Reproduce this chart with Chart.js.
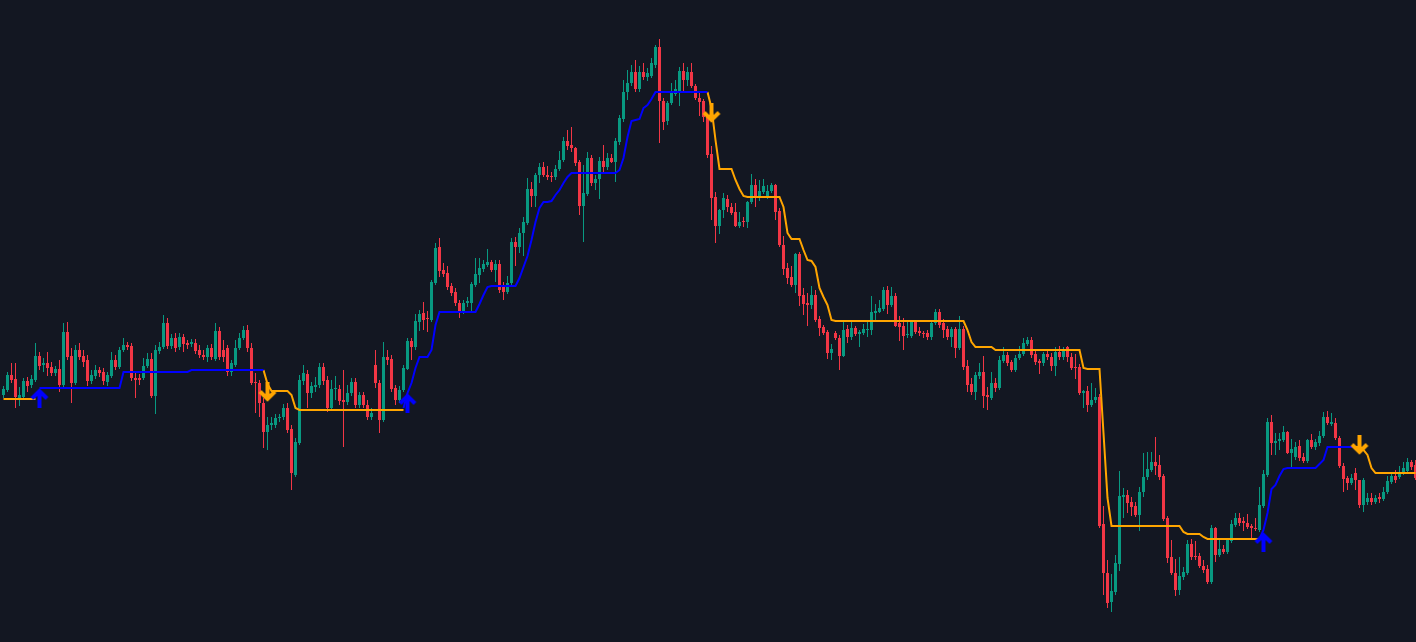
<!DOCTYPE html>
<html>
<head>
<meta charset="utf-8">
<title>Trailing stop</title>
<script src="https://cdn.jsdelivr.net/npm/chart.js@4.4.1/dist/chart.umd.min.js"></script>
<style>
  html, body { margin: 0; padding: 0; background: #131722; overflow: hidden; }
  #wrap { position: relative; width: 1416px; height: 642px; }
</style>
</head>
<body>
<div id="wrap"><canvas id="chart"></canvas></div>
<script>
const n = null;

// candles (price units), one per bar
const opens = [
  605,610,625,621,602,603,619,615,620,644, 635,637,633,627,631,615,668,644,617,650,
  644,640,619,624,630,628,618,624,640,633, 650,655,654,622,622,622,634,641,604,649,
  653,677,654,662,653,663,657,656,657,650, 645,643,652,641,669,650,652,628,635,652,
  662,670,652,618,617,597,568,575,575,582, 583,592,571,525,557,619,626,607,613,615,
  633,620,592,611,611,600,598,607,618,595, 605,595,583,635,617,580,643,641,612,600,
  610,631,659,653,678,687,682,680,717,753, 730,727,714,708,697,689,697,697,715,725,
  731,735,738,730,736,713,708,717,758,753, 767,777,811,804,825,833,825,824,823,831,
  840,859,855,852,838,794,806,842,817,821, 839,833,842,838,858,881,908,917,928,911,
  928,923,924,935,953,899,879,897,906,908, 929,920,928,914,902,899,883,846,803,774,
  790,801,793,788,774,779,778,798,815,802, 808,803,809,815,789,755,732,723,715,746,
  705,697,695,705,681,673,668,647,667,662, 644,671,663,672,666,667,670,670,687,688,
  691,710,695,704,677,674,665,664,678,669, 667,667,663,677,688,677,671,663,671,652,
  671,634,616,608,624,628,605,602,617,612, 639,645,638,630,642,646,656,660,646,639,
  637,646,643,634,648,643,653,643,633,633, 607,609,595,600,603,476,427,398,408,436,
  503,505,498,494,485,508,523,530,538,535, 524,482,443,427,410,423,427,456,444,444,
  434,431,418,472,445,451,448,459,475,482, 479,477,474,472,470,494,525,578,557,559,
  560,568,547,543,554,543,539,560,553,557, 564,583,576,577,562,534,522,517,527,520,
  495,498,502,498,503,501,508,518,524,523, 527,529,538,535
];
const closes = [
  611,625,620,603,605,619,614,621,644,634, 637,632,627,631,615,668,643,617,650,643,
  638,619,625,630,627,619,625,640,633,650, 655,653,622,620,620,634,641,604,650,653,
  677,654,662,652,663,656,655,658,649,645, 643,652,643,669,643,643,628,637,652,662,
  670,652,617,617,597,568,575,577,582,583, 592,570,527,558,620,627,607,614,615,633,
  619,592,611,611,599,598,607,618,595,605, 595,583,587,617,580,643,640,611,600,610,
  632,659,653,679,686,680,681,718,752,729, 726,713,707,697,689,697,699,716,726,732,
  736,738,730,736,710,708,717,758,753,767, 778,811,804,825,833,825,823,823,831,840,
  859,854,852,837,794,807,842,817,821,839, 833,842,838,859,882,908,917,928,911,928,
  923,927,937,953,899,878,897,907,911,929, 920,928,914,902,898,883,845,802,774,790,
  802,793,787,774,778,778,798,815,802,809, 814,809,815,788,755,731,722,715,746,704,
  696,695,705,680,672,667,647,651,662,644, 670,663,672,666,668,671,671,688,689,692,
  710,695,704,674,673,664,665,678,668,667, 666,663,677,688,675,670,663,671,652,671,
  633,615,608,625,628,604,603,617,612,640, 645,637,630,642,646,657,660,645,638,637,
  646,643,634,648,643,649,643,632,632,607, 609,595,600,603,474,427,397,409,437,504,
  505,497,493,485,508,523,531,538,534,523, 481,442,427,410,424,428,456,443,443,434,
  430,418,472,445,451,448,460,476,482,477, 477,473,472,471,495,526,578,557,559,561,
  568,547,551,553,542,539,560,553,558,564, 583,577,578,562,534,521,517,522,520,495,
  520,502,498,502,501,508,519,524,520,528, 532,538,533,522
];
const highs = [
  614,628,637,637,613,622,623,625,657,648, 642,648,638,634,640,677,678,652,655,657,
  650,645,630,635,633,632,628,648,645,653, 662,658,657,628,626,642,647,647,655,658,
  685,682,666,667,667,666,660,661,661,655, 650,655,656,677,673,660,655,640,660,667,
  674,675,657,627,620,602,583,583,586,586, 596,597,575,562,625,635,630,618,623,637,
  637,624,620,624,615,630,615,622,622,608, 608,600,592,650,620,658,650,645,615,614,
  635,662,662,686,690,698,689,720,757,762, 737,734,717,712,700,700,703,718,742,742,
  740,751,740,740,740,718,724,762,763,772, 783,822,818,827,837,838,834,828,835,849,
  863,870,873,853,840,835,848,845,825,843, 855,847,846,862,885,920,930,935,940,934,
  937,932,942,955,961,902,899,917,920,933, 937,933,937,916,908,901,886,854,808,791,
  807,805,797,797,788,783,799,826,821,820, 821,815,817,816,792,764,737,734,747,748,
  712,707,714,710,684,675,670,656,669,665, 678,675,678,674,670,676,678,704,696,700,
  713,714,713,707,684,682,680,680,680,673, 669,670,678,691,691,681,674,673,673,684,
  674,640,622,628,637,644,613,628,622,644, 653,648,640,645,654,662,663,663,650,641,
  648,650,647,653,654,653,654,647,646,636, 610,614,617,612,606,494,440,426,445,529,
  512,510,503,498,513,547,548,548,563,545, 526,484,460,441,443,433,460,461,459,447,
  440,435,475,473,462,455,462,480,487,487, 483,486,476,482,513,530,582,585,567,567,
  574,569,561,558,560,547,561,566,561,569, 588,589,587,582,564,537,524,526,532,520,
  522,507,507,505,507,513,524,528,530,534, 538,542,540,540
];
const lows = [
  602,608,617,592,594,601,608,612,618,630, 628,624,624,624,608,612,640,597,615,640,
  633,614,616,621,623,615,614,622,630,631, 648,650,619,602,615,620,632,602,586,646,
  651,651,651,648,650,648,651,653,646,642, 640,638,640,639,640,638,624,624,633,650,
  660,648,615,587,583,552,550,570,572,578, 580,567,510,523,555,615,592,602,608,612,
  615,588,589,600,595,553,595,604,592,592, 592,580,580,612,567,578,635,608,595,597,
  608,630,640,650,669,670,668,678,715,723, 723,710,704,694,682,686,693,689,713,717,
  728,733,728,718,707,700,706,715,734,747, 744,775,793,793,817,823,820,818,820,829,
  838,850,848,834,785,758,804,814,810,801, 827,830,837,818,855,878,900,914,908,908,
  920,919,922,932,857,870,875,895,904,894, 908,914,912,900,884,878,842,780,757,766,
  782,788,785,773,772,773,772,796,793,799, 806,801,807,780,753,725,716,713,707,694,
  685,674,691,678,664,665,641,640,660,630, 643,657,660,664,653,665,663,665,679,687,
  689,686,693,673,659,650,662,662,666,664, 662,660,660,675,672,662,660,653,642,650,
  630,608,605,600,621,592,590,600,608,610, 637,634,628,628,640,644,654,642,635,626,
  634,640,629,624,640,640,638,630,621,605, 592,588,593,597,472,405,392,388,405,429,
  482,487,484,483,469,503,520,528,525,520, 479,437,425,404,405,420,425,440,440,432,
  427,416,416,438,443,446,446,457,473,474, 469,471,462,469,468,492,523,545,545,550,
  558,546,533,540,539,537,537,551,550,554, 562,575,574,560,532,508,510,515,510,492,
  488,495,495,496,497,499,506,516,517,521, 525,527,530,520
];

// trailing stop, long side (blue) and short side (orange)
const longStop = [
  n,n,n,n,n,n,n,n,n,612, 612,612,612,612,612,612,612,612,612,612,
  612,612,612,612,612,612,612,612,612,612, 628,628,628,628,628,628,628,628,628,628,
  628,628,628,628,628,628,628,630,630,630, 630,630,630,630,630,630,630,630,630,630,
  630,630,630,630,630,630,n,n,n,n, n,n,n,n,n,n,n,n,n,n,
  n,n,n,n,n,n,n,n,n,n, n,n,n,n,n,n,n,n,n,n,
  592,607,617,632,643,643,643,650,675,688, 688,688,688,688,688,688,688,688,688,696,
  705,713,714,714,714,714,714,714,714,722, 733,744,760,778,792,798,798,799,805,810,
  817,823,827,827,827,827,827,827,827,827, 827,827,827,827,830,842,863,879,880,881,
  892,895,901,908,908,908,908,908,908,908, 908,908,908,908,908,908,908,n,n,n,
  n,n,n,n,n,n,n,n,n,n, n,n,n,n,n,n,n,n,n,n,
  n,n,n,n,n,n,n,n,n,n, n,n,n,n,n,n,n,n,n,n,
  n,n,n,n,n,n,n,n,n,n, n,n,n,n,n,n,n,n,n,n,
  n,n,n,n,n,n,n,n,n,n, n,n,n,n,n,n,n,n,n,n,
  n,n,n,n,n,n,n,n,n,n, n,n,n,n,n,n,n,n,n,n,
  n,n,n,n,n,n,n,n,n,n, n,n,n,n,n,n,n,n,n,n,
  n,n,n,n,n,n,n,n,n,n, n,n,n,n,461,470,487,511,515,524,
  531,532,532,532,532,532,532,532,532,536, 540,553,553,553,553,553,553,553,553,n,
  n,n,n,n,n,n,n,n,n,n, n,n,n,n
];
const shortStop = [
  601,601,601,601,601,601,601,601,601,n, n,n,n,n,n,n,n,n,n,n,
  n,n,n,n,n,n,n,n,n,n, n,n,n,n,n,n,n,n,n,n,
  n,n,n,n,n,n,n,n,n,n, n,n,n,n,n,n,n,n,n,n,
  n,n,n,n,n,630,616,609,609,609, 609,609,605,592,590,590,590,590,590,590,
  590,590,590,590,590,590,590,590,590,590, 590,590,590,590,590,590,590,590,590,590,
  590,n,n,n,n,n,n,n,n,n, n,n,n,n,n,n,n,n,n,n,
  n,n,n,n,n,n,n,n,n,n, n,n,n,n,n,n,n,n,n,n,
  n,n,n,n,n,n,n,n,n,n, n,n,n,n,n,n,n,n,n,n,
  n,n,n,n,n,n,n,n,n,n, n,n,n,n,n,n,908,892,860,831,
  831,831,831,820,811,804,803,803,803,803, 803,803,803,803,803,793,767,761,761,761,
  750,740,739,733,712,703,695,680,679,679, 679,679,679,679,679,679,679,679,679,679,
  679,679,679,679,679,679,679,679,679,679, 679,679,679,679,679,679,679,679,679,679,
  679,670,658,653,653,653,653,653,650,650, 650,650,650,650,650,650,650,650,650,650,
  650,650,650,650,650,650,650,650,650,650, 632,631,631,631,631,567,502,474,474,474,
  474,474,474,474,474,474,474,474,474,474, 474,474,474,474,474,468,466,466,466,466,
  463,461,461,461,461,461,461,461,461,461, 461,461,461,461,461,n,n,n,n,n,
  n,n,n,n,n,n,n,n,n,n, n,n,n,n,n,n,n,n,553,553,
  550,545,532,527,527,527,527,527,527,527, 527,527,527,527
];

// signal arrows: bar index and price of the arrow tip
const buyBars = [9, 101, 315];
const buyPrices = [612, 607, 468];
const sellBars = [66, 177, 339];
const sellPrices = [598, 877, 545];

const GREEN = '#089981';
const RED = '#f23645';
const BLUE = '#0000ff';
const ORANGE = '#ffa500';

const labels = closes.map((_, i) => String(i));
const candleColors = closes.map((c, i) => (c >= opens[i] ? GREEN : RED));

function makeArrow(color, up) {
  const c = document.createElement('canvas');
  c.width = 20;
  c.height = 44;
  const g = c.getContext('2d');
  const tip = 22, cx = 10, d = up ? 1 : -1;
  g.strokeStyle = color;
  g.fillStyle = color;
  g.lineWidth = 4;
  g.lineJoin = 'miter';
  g.beginPath();
  g.moveTo(cx - 7.5, tip + d * 10.5);
  g.lineTo(cx, tip + d * 3);
  g.lineTo(cx + 7.5, tip + d * 10.5);
  g.stroke();
  g.fillRect(cx - 2, up ? tip + 2 : tip - 20, 4, 18);
  return c;
}

// nudge marks so 1px wicks and 3px bodies land on whole pixels
const pixelAlign = {
  id: 'pixelAlign',
  beforeDatasetsDraw(chart) { chart.ctx.save(); chart.ctx.translate(1.5, 0); },
  afterDatasetsDraw(chart) { chart.ctx.restore(); }
};

new Chart(document.getElementById('chart'), {
  type: 'bar',
  data: {
    labels: labels,
    datasets: [
      {
        type: 'line',
        data: buyBars.map((b, i) => ({ x: labels[b], y: buyPrices[i] })),
        showLine: false,
        pointStyle: makeArrow(BLUE, true),
        order: 0
      },
      {
        type: 'line',
        data: sellBars.map((b, i) => ({ x: labels[b], y: sellPrices[i] })),
        showLine: false,
        pointStyle: makeArrow(ORANGE, false),
        order: 0
      },
      {
        type: 'line',
        data: longStop,
        borderColor: BLUE,
        borderWidth: 2,
        pointRadius: 0,
        spanGaps: false,
        order: 1
      },
      {
        type: 'line',
        data: shortStop,
        borderColor: ORANGE,
        borderWidth: 2,
        pointRadius: 0,
        spanGaps: false,
        order: 1
      },
      {
        data: opens.map((o, i) => [o, closes[i]]),
        backgroundColor: candleColors,
        barThickness: 3,
        minBarLength: 1,
        grouped: false,
        inflateAmount: 0,
        order: 2
      },
      {
        data: lows.map((l, i) => [l, highs[i]]),
        backgroundColor: candleColors,
        barThickness: 1,
        grouped: false,
        inflateAmount: 0,
        order: 3
      }
    ]
  },
  options: {
    responsive: true,
    maintainAspectRatio: false,
    animation: false,
    events: [],
    layout: { padding: 0, autoPadding: false },
    plugins: { legend: { display: false }, tooltip: { enabled: false } },
    scales: {
      x: { type: 'category', display: false, offset: true },
      y: { type: 'linear', display: false, min: 358, max: 1000 }
    }
  },
  plugins: [pixelAlign]
});
</script>
</body>
</html>
